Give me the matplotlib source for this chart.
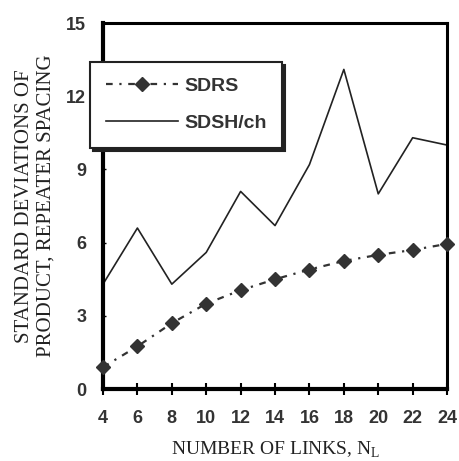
import matplotlib
matplotlib.use("Agg")
import matplotlib.pyplot as plt

links = [4, 6, 8, 10, 12, 14, 16, 18, 20, 22, 24]
sdrs = [0.9, 1.75, 2.7, 3.5, 4.05, 4.5, 4.9, 5.25, 5.5, 5.7, 5.95]
sdsh = [4.3, 6.6, 4.3, 5.6, 8.1, 6.7, 9.2, 13.1, 8.0, 10.3, 10.0]
yticks = [0, 3, 6, 9, 12, 15]

fig = plt.figure(figsize=(4.59, 4.61), dpi=100)
ax = fig.add_axes([0.2244, 0.156, 0.7496, 0.794])

ax.plot(links, sdrs, color="#333333", linestyle=(0, (3, 3, 1, 3)), linewidth=1.6,
        marker="D", markersize=7.5, markerfacecolor="#333333", markeredgecolor="#333333",
        label="SDRS", clip_on=False, zorder=3)
ax.plot(links, sdsh, color="#222222", linewidth=1.2, label="SDSH/ch", clip_on=False)

ax.set_xlim(4, 24)
ax.set_ylim(0, 15)
ax.set_xticks(links)
ax.set_yticks(yticks)

for s in ["left", "bottom"]:
    ax.spines[s].set_linewidth(3)
for s in ["top", "right"]:
    ax.spines[s].set_linewidth(2.2)

ax.tick_params(axis="x", direction="inout", length=8, width=1.5, pad=11, labelsize=13)
ax.tick_params(axis="y", direction="in", length=2, width=1, pad=12, labelsize=13)
for lab in ax.get_xticklabels() + ax.get_yticklabels():
    lab.set_fontfamily("Liberation Sans")
    lab.set_fontweight("bold")
    lab.set_color("#333333")

ax.set_xlabel("NUMBER OF LINKS, N$_\\mathregular{L}$", family="Liberation Serif",
              fontsize=14, labelpad=9, color="#222222")
ax.set_ylabel("STANDARD DEVIATIONS OF\nPRODUCT, REPEATER SPACING", family="Liberation Serif",
              fontsize=15, labelpad=8, color="#222222", linespacing=1.15)

leg = ax.legend(loc="upper left", frameon=True,
                prop={"family": "Liberation Sans", "weight": "bold", "size": 14},
                handlelength=3.7, handletextpad=0.35, labelspacing=1.0, borderpad=0.8,
                fancybox=False, shadow={"color": "#222222", "alpha": 1.0}, borderaxespad=0)
leg.set_bbox_to_anchor((90 / 459, 1 - 62 / 461), transform=fig.transFigure)
leg.get_frame().set_edgecolor("#222222")
leg.get_frame().set_linewidth(1.5)
for t in leg.get_texts():
    t.set_color("#333333")

fig.savefig("out.png", dpi=100)
